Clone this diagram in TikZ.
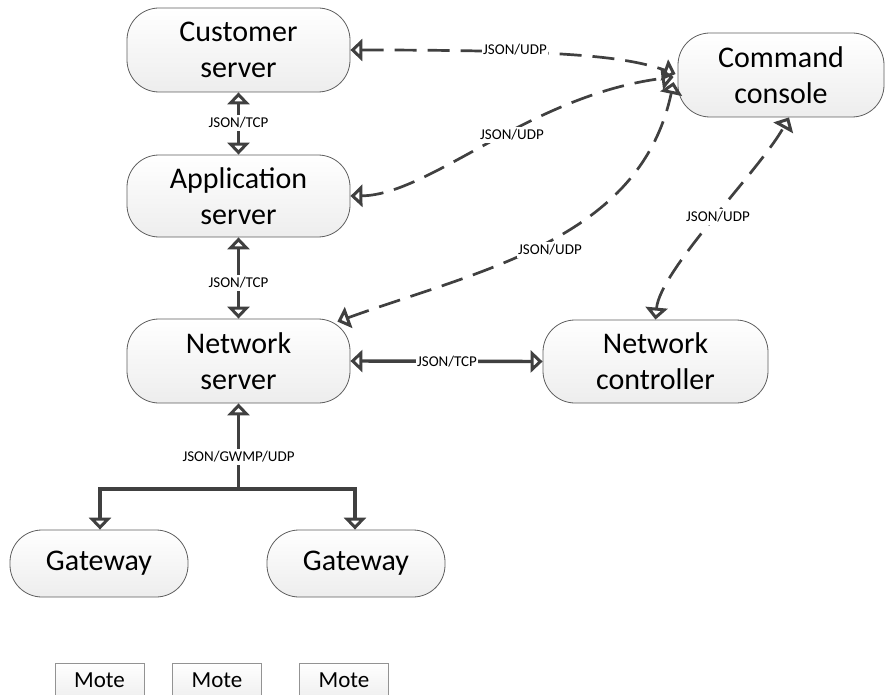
\documentclass[tikz,border=0pt]{standalone}
\usepackage{fontspec}
\setmainfont{Carlito}
\usetikzlibrary{arrows.meta,calc}
\definecolor{ln}{HTML}{404040}
\definecolor{bd}{HTML}{5E5E5E}
\begin{document}
\begin{tikzpicture}[x=1pt,y=-1pt,
  box/.style={draw=bd,line width=0.8pt,rounded corners=32pt,top color=white,bottom color=gray!14,
    align=center,font=\fontsize{30}{36}\selectfont,inner sep=0pt},
  mote/.style={draw=gray!85,line width=0.8pt,top color=white,bottom color=gray!12,
    font=\fontsize{23}{27}\selectfont,minimum width=89pt,minimum height=34pt,inner sep=0pt},
  lbl/.style={fill=white,inner xsep=1pt,inner ysep=2.5pt,font=\fontsize{15}{18}\selectfont},
  dbl/.style={arrows={Triangle[open,length=12pt,width=22pt,line width=3.4pt]-Triangle[open,length=12pt,width=22pt,line width=3.4pt]}},
  fwd/.style={arrows={-Triangle[open,length=12pt,width=22pt,line width=3.4pt]}},
  solidc/.style={draw=ln,line width=3.4pt},
  dashc/.style={draw=ln,line width=2.7pt,dash pattern=on 22pt off 11pt}]
\clip (0,0) rectangle (888,695);
\fill[white] (0,0) rectangle (888,695);

% nodes
\node[box,minimum width=223pt,minimum height=84pt] (cust) at (238.5,50) {Customer\\server};
\node[box,minimum width=223pt,minimum height=82pt] (app) at (238.5,196) {Application\\server};
\node[box,minimum width=223pt,minimum height=84pt] (net) at (238.5,361) {Network\\server};
\node[box,minimum width=225pt,minimum height=83pt] (ctrl) at (655.5,361.5) {Network\\controller};
\node[box,minimum width=206pt,minimum height=84pt] (con) at (781,75) {Command\\console};
\node[box,minimum width=178pt,minimum height=67pt] (gw1) at (99,563.5) {Gateway};
\node[box,minimum width=178pt,minimum height=67pt] (gw2) at (356,563.5) {Gateway};
\node[mote] (m1) at (99.5,680) {Mote};
\node[mote] (m2) at (217,680) {Mote};
\node[mote] (m3) at (344,680) {Mote};

% solid connectors
\draw[solidc,dbl] (cust.south) -- (app.north);
\draw[solidc,dbl] (app.south) -- (net.north);
\draw[solidc,dbl] (net.east) -- (ctrl.west);
\coordinate (jn) at (238.5,489);
\draw[solidc,fwd] (jn) -- (net.south);
\draw[solidc,fwd] (jn) -| ($(gw1.north)+(1,0)$);
\draw[solidc,fwd] (jn) -| ($(gw2.north)+(-1,0)$);

% dashed connectors
\draw[dashc,dbl] (cust.east) .. controls (560,50) and (625,56) .. ($(con.west)+(-2,-1)$);
\draw[dashc,dbl] (app.east) .. controls (430,195) and (530,95) .. ($(con.west)+(-4,2)$);
\draw[dashc,dbl] ($(net.north east)+(-13,3)$) .. controls (480,270) and (640,240) .. ($(con.west)+(-4,7)$);
\draw[dashc,dbl] (ctrl.north) .. controls (660,270) and (760,170) .. ($(con.south)+(8,0)$);

% labels
\node[lbl] (l1) at (238.5,123) {JSON/TCP};
\node[lbl] (l2) at (238.5,283) {JSON/TCP};
\node[lbl] (l3) at (447,362) {JSON/TCP};
\node[lbl] (l4) at (238.5,457) {JSON/GWMP/UDP};
\node[lbl] (l5) at (515,50) {JSON/UDP};
\node[lbl] (l6) at (512,135) {JSON/UDP};
\node[lbl] (l7) at (550,250) {JSON/UDP};
\node[lbl] (l8) at (718,217) {JSON/UDP};
\end{tikzpicture}
\end{document}
